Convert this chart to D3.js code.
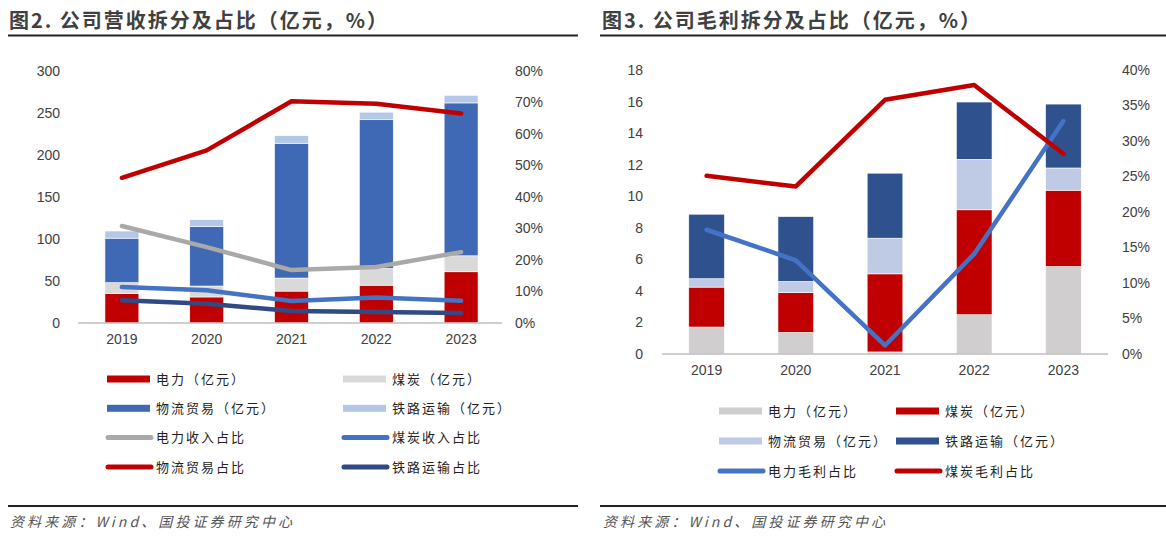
<!DOCTYPE html>
<html><head><meta charset="utf-8">
<script src="https://cdn.jsdelivr.net/npm/d3@7"></script>
<style>
html,body{margin:0;padding:0;background:#fff;}
svg{display:block;}
</style></head>
<body>
<svg id="c" width="1166" height="536"></svg>
<script>
// ---------- data ----------
const years = ["2019","2020","2021","2022","2023"];

// Left chart: revenue breakdown (亿元) and shares (%)
const revPower   = [35, 31, 38, 45, 61];
const revCoal    = [13, 13, 15.5, 20, 19];
const revLogist  = [53, 71, 160.5, 177, 182];
const revRail    = [8.5, 8, 9, 9, 9];
const shPower    = [30.8, 24.1, 16.8, 17.8, 22.5];
const shCoal     = [11.4, 10.4, 7.0, 8.1, 7.1];
const shLogist   = [46.1, 54.8, 70.4, 69.6, 66.5];
const shRail     = [7.2, 6.1, 3.8, 3.5, 3.2];
const leftTicks  = [0, 50, 100, 150, 200, 250, 300];
const leftPctTicks = [0, 10, 20, 30, 40, 50, 60, 70, 80];

// Right chart: gross profit breakdown (亿元) and shares (%)
const gpPower   = [1.71, 1.37, 0.13, 2.49, 5.55];
const gpCoal    = [2.53, 2.53, 4.95, 6.65, 4.83];
const gpLogist  = [0.53, 0.70, 2.26, 3.20, 1.41];
const gpRail    = [4.09, 4.11, 4.12, 3.63, 4.05];
const gsPower   = [17.5, 13.2, 1.2, 14.1, 32.8];
const gsCoal    = [25.1, 23.6, 35.8, 37.9, 28.2];
const rightTicks = [0, 2, 4, 6, 8, 10, 12, 14, 16, 18];
const rightPctTicks = [0, 5, 10, 15, 20, 25, 30, 35, 40];

const title1 = "图2. 公司营收拆分及占比（亿元，%）";
const title2 = "图3. 公司毛利拆分及占比（亿元，%）";
const source = "资料来源：Wind、国投证券研究中心";

// ---------- drawing ----------
const svg = d3.select("#c");
const tickFont = "'Liberation Sans', Arial, sans-serif";
const cjkFont = "'Noto Sans CJK SC', sans-serif";

function drawChart(cfg) {
  const g = svg.append("g");
  // title
  g.append("text").attr("x", cfg.titleX).attr("y", 28)
    .attr("font-family", cjkFont).attr("font-size", 20).attr("font-weight", "bold")
    .attr("fill", "#404040").attr("textLength", 378).attr("lengthAdjust", "spacing")
    .text(cfg.title);
  g.append("line").attr("x1", cfg.lineX1).attr("x2", cfg.lineX2).attr("y1", 35.5).attr("y2", 35.5)
    .attr("stroke", "#222").attr("stroke-width", 2);

  const x = d3.scaleBand().domain(years).range([cfg.x0 + cfg.shift, cfg.x1 + cfg.shift]).padding(0.6).paddingOuter(0.3);
  const y = d3.scaleLinear().domain([0, cfg.yMax]).range([cfg.yBase, cfg.yTop]);
  const y2 = d3.scaleLinear().domain([0, cfg.pMax]).range([cfg.yBase, cfg.yTop]);

  // stacked bars
  const rows = years.map((yr, i) => {
    const o = {year: yr};
    cfg.bars.forEach(b => o[b.key] = b.values[i]);
    return o;
  });
  const stack = d3.stack().keys(cfg.bars.map(b => b.key))(rows);
  stack.forEach((layer, li) => {
    g.append("g").selectAll("rect").data(layer).join("rect")
      .attr("x", d => x(d.data.year))
      .attr("width", x.bandwidth())
      .attr("y", d => y(d[1]))
      .attr("height", d => y(d[0]) - y(d[1]))
      .attr("fill", cfg.bars[li].color)
      .attr("stroke", "#fff").attr("stroke-width", 0.6);
  });

  // x axis
  const xa = g.append("g").attr("transform", `translate(0,${cfg.yBase})`)
    .call(d3.axisBottom(x).tickSize(0).tickPadding(11));
  xa.select(".domain").attr("stroke", "#bfbfbf").attr("stroke-width", 1.5)
    .attr("d", `M${cfg.x0},0H${cfg.x1}`);
  xa.selectAll("text").attr("font-family", tickFont).attr("font-size", 14).attr("fill", "#404040");

  // left axis
  const ya = g.append("g").attr("transform", `translate(${cfg.leftLabelX},0)`)
    .call(d3.axisLeft(y).tickValues(cfg.yTicks).tickSize(0).tickPadding(0));
  ya.select(".domain").remove();
  ya.selectAll("text").attr("font-family", tickFont).attr("font-size", 14).attr("fill", "#404040");

  // right axis
  const pa = g.append("g").attr("transform", `translate(${cfg.rightLabelX},0)`)
    .call(d3.axisRight(y2).tickValues(cfg.pTicks).tickSize(0).tickPadding(0).tickFormat(d => d + "%"));
  pa.select(".domain").remove();
  pa.selectAll("text").attr("font-family", tickFont).attr("font-size", 14).attr("fill", "#404040");

  // lines
  const line = d3.line().x((d, i) => x(years[i]) + x.bandwidth() / 2).y(d => y2(d));
  cfg.lines.forEach(l => {
    g.append("path").datum(l.values).attr("d", line)
      .attr("fill", "none").attr("stroke", l.color).attr("stroke-width", 4.5)
      .attr("stroke-linecap", "round").attr("stroke-linejoin", "round");
  });

  // legend
  const leg = g.append("g");
  cfg.legend.forEach((it, i) => {
    const col = i % 2, row = Math.floor(i / 2);
    const sx = cfg.legX[col], sy = cfg.legY0 + row * cfg.legDy;
    if (it.type === "rect") {
      leg.append("rect").attr("x", sx).attr("y", sy - 3.5).attr("width", 43).attr("height", 7)
        .attr("fill", it.color);
    } else {
      leg.append("line").attr("x1", sx + 1).attr("x2", sx + 44).attr("y1", sy).attr("y2", sy)
        .attr("stroke", it.color).attr("stroke-width", 5).attr("stroke-linecap", "round");
    }
    leg.append("text").attr("x", sx + 49).attr("y", sy).attr("dy", "0.36em")
      .attr("font-family", cjkFont).attr("font-size", 13).attr("letter-spacing", 2)
      .attr("fill", "#222").text(it.label);
  });

  // source
  g.append("line").attr("x1", cfg.srcLineX1).attr("x2", cfg.srcLineX2).attr("y1", 506).attr("y2", 506)
    .attr("stroke", "#222").attr("stroke-width", 2);
  g.append("text").attr("x", cfg.srcX).attr("y", 527)
    .attr("font-family", cjkFont).attr("font-size", 14).attr("font-style", "italic")
    .attr("fill", "#555").attr("textLength", 282).attr("lengthAdjust", "spacing")
    .text(source);
}

drawChart({
  title: title1, titleX: 9, lineX1: 8, lineX2: 578,
  x0: 78, x1: 502, shift: 1.5, yBase: 323, yTop: 71, yMax: 300, pMax: 80,
  yTicks: leftTicks, pTicks: leftPctTicks, leftLabelX: 60, rightLabelX: 515,
  bars: [
    {key: "电力", values: revPower, color: "#C00000"},
    {key: "煤炭", values: revCoal, color: "#D9D9D9"},
    {key: "物流贸易", values: revLogist, color: "#3F69B5"},
    {key: "铁路运输", values: revRail, color: "#B4C7E7"}
  ],
  lines: [
    {values: shPower, color: "#ABA8A8"},
    {values: shCoal, color: "#4472C4"},
    {values: shLogist, color: "#C00000"},
    {values: shRail, color: "#2F4A85"}
  ],
  legend: [
    {type: "rect", color: "#C00000", label: "电力（亿元）"},
    {type: "rect", color: "#D9D9D9", label: "煤炭（亿元）"},
    {type: "rect", color: "#3F69B5", label: "物流贸易（亿元）"},
    {type: "rect", color: "#B4C7E7", label: "铁路运输（亿元）"},
    {type: "line", color: "#ABA8A8", label: "电力收入占比"},
    {type: "line", color: "#4472C4", label: "煤炭收入占比"},
    {type: "line", color: "#C00000", label: "物流贸易占比"},
    {type: "line", color: "#2F4A85", label: "铁路运输占比"}
  ],
  legX: [107, 343], legY0: 379, legDy: 29.3,
  srcLineX1: 8, srcLineX2: 578, srcX: 10
});

drawChart({
  title: title2, titleX: 602, lineX1: 600, lineX2: 1166,
  x0: 662, x1: 1108, shift: 0, yBase: 354, yTop: 70, yMax: 18, pMax: 40,
  yTicks: rightTicks, pTicks: rightPctTicks, leftLabelX: 643, rightLabelX: 1122,
  bars: [
    {key: "电力", values: gpPower, color: "#D0CECE"},
    {key: "煤炭", values: gpCoal, color: "#C00000"},
    {key: "物流贸易", values: gpLogist, color: "#BFCAE4"},
    {key: "铁路运输", values: gpRail, color: "#2F528F"}
  ],
  lines: [
    {values: gsPower, color: "#4472C4"},
    {values: gsCoal, color: "#C00000"}
  ],
  legend: [
    {type: "rect", color: "#D0CECE", label: "电力（亿元）"},
    {type: "rect", color: "#C00000", label: "煤炭（亿元）"},
    {type: "rect", color: "#BFCAE4", label: "物流贸易（亿元）"},
    {type: "rect", color: "#2F528F", label: "铁路运输（亿元）"},
    {type: "line", color: "#4472C4", label: "电力毛利占比"},
    {type: "line", color: "#C00000", label: "煤炭毛利占比"}
  ],
  legX: [719, 896], legY0: 411, legDy: 30,
  srcLineX1: 600, srcLineX2: 1166, srcX: 603
});
</script>
</body></html>
